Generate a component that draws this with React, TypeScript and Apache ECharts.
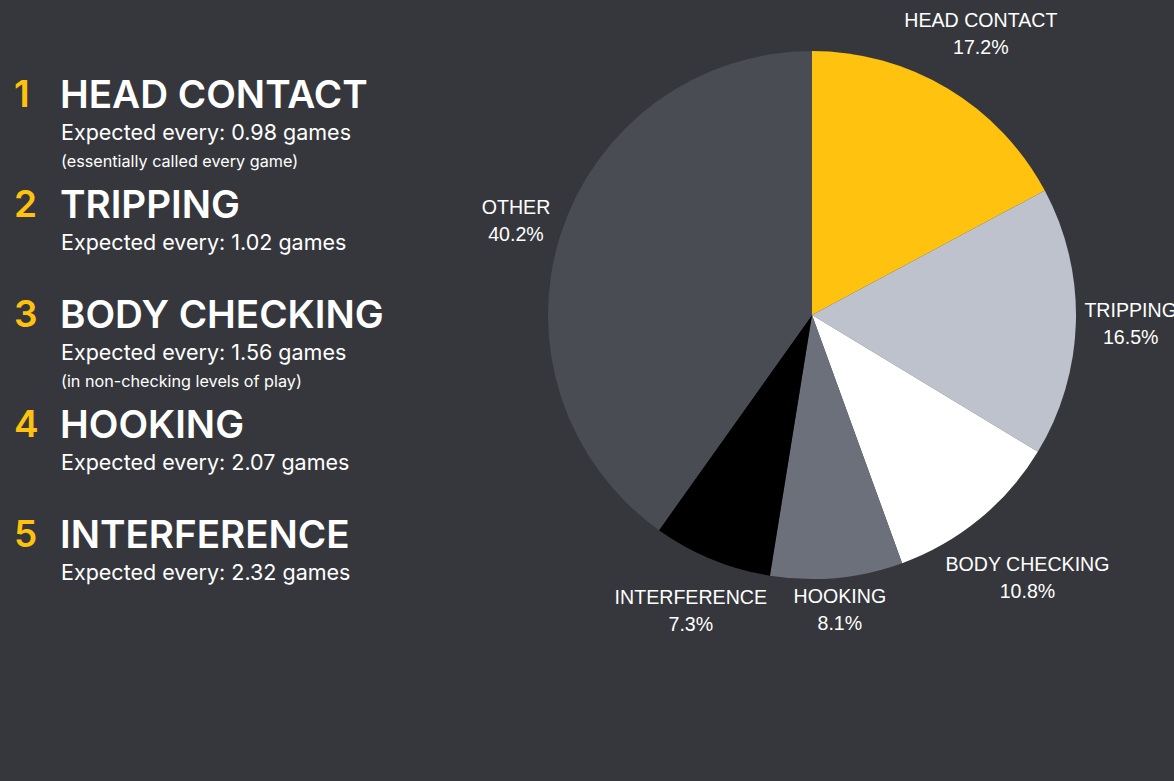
import React, { useEffect, useRef } from "react";
import * as echarts from "echarts";

const categories = ["HEAD CONTACT", "TRIPPING", "BODY CHECKING", "HOOKING", "INTERFERENCE", "OTHER"];
const shares = [17.2, 16.5, 10.8, 8.1, 7.3, 40.2];
const sliceColors = ["#FFC20E", "#BEC2CC", "#FFFFFF", "#6C707B", "#000000", "#4A4C54"];

const rankNames = ["HEAD CONTACT", "TRIPPING", "BODY CHECKING", "HOOKING", "INTERFERENCE"];
const expectedGames = ["0.98", "1.02", "1.56", "2.07", "2.32"];
const notes = ["(essentially called every game)", "", "(in non-checking levels of play)", "", ""];

const BG = "#36373C";
const YELLOW = "#FFC20E";
const CX = 812;
const CY = 315;
const R = 264;
const LEFT_FONT = "Inter";
const PIE_FONT = "'Liberation Sans', Arial, sans-serif";

export default function App() {
  const ref = useRef<HTMLDivElement>(null);

  useEffect(() => {
    if (!ref.current) return;
    const chart = echarts.init(ref.current, undefined, { renderer: "svg" });
    const total = shares.reduce((a, b) => a + b, 0);

    const graphic: any[] = [];
    rankNames.forEach((name, i) => {
      const step = 110 * i;
      graphic.push({
        type: "text",
        x: 14,
        y: 93.5 + step,
        style: { text: String(i + 1), fill: YELLOW, fontFamily: LEFT_FONT, fontWeight: 600, fontSize: 37, verticalAlign: "middle" },
        silent: true,
      });
      graphic.push({
        type: "text",
        x: 60,
        y: 93.5 + step,
        style: { text: name, fill: "#FFFFFF", fontFamily: LEFT_FONT, fontWeight: 600, fontSize: 38.6, verticalAlign: "middle" },
        silent: true,
      });
      graphic.push({
        type: "text",
        x: 61,
        y: 132 + step,
        style: { text: `Expected every: ${expectedGames[i]} games`, fill: "#FFFFFF", fontFamily: LEFT_FONT, fontWeight: 400, fontSize: 21.5, verticalAlign: "middle" },
        silent: true,
      });
      if (notes[i]) {
        graphic.push({
          type: "text",
          x: 61,
          y: 160.5 + step,
          style: { text: notes[i], fill: "#FFFFFF", fontFamily: LEFT_FONT, fontWeight: 400, fontSize: 16.2, verticalAlign: "middle" },
          silent: true,
        });
      }
    });

    chart.setOption({
      animation: false,
      backgroundColor: BG,
      graphic,
      series: [
        {
          type: "pie",
          center: [CX, CY],
          radius: R,
          startAngle: 90,
          clockwise: true,
          silent: true,
          emphasis: { disabled: true },
          label: {
            show: true,
            position: "inside",
            formatter: "{b}\n{c}%",
            color: "#FFFFFF",
            fontFamily: PIE_FONT,
            fontSize: 19.6,
            lineHeight: 27,
            align: "center",
          },
          labelLine: { show: false },
          labelLayout: (p: any) => {
            const i = p.dataIndex;
            let before = 0;
            for (let k = 0; k < i; k++) before += shares[k];
            const mid = ((before + shares[i] / 2) / total) * Math.PI * 2;
            const dx = Math.sin(mid);
            const dy = -Math.cos(mid);
            const hw = p.labelRect.width / 2;
            const hh = p.labelRect.height / 2 - 7;
            const d = R + 8 + hw * Math.abs(dx) + hh * Math.abs(dy);
            return { x: CX + d * dx, y: CY + d * dy, align: "center", verticalAlign: "middle" };
          },
          data: categories.map((name, i) => ({
            name,
            value: shares[i],
            itemStyle: { color: sliceColors[i] },
          })),
        },
      ],
    });
    return () => chart.dispose();
  }, []);

  return (
    <div
      ref={ref}
      style={{ position: "absolute", left: 0, top: 0, width: 1174, height: 781 }}
    />
  );
}
